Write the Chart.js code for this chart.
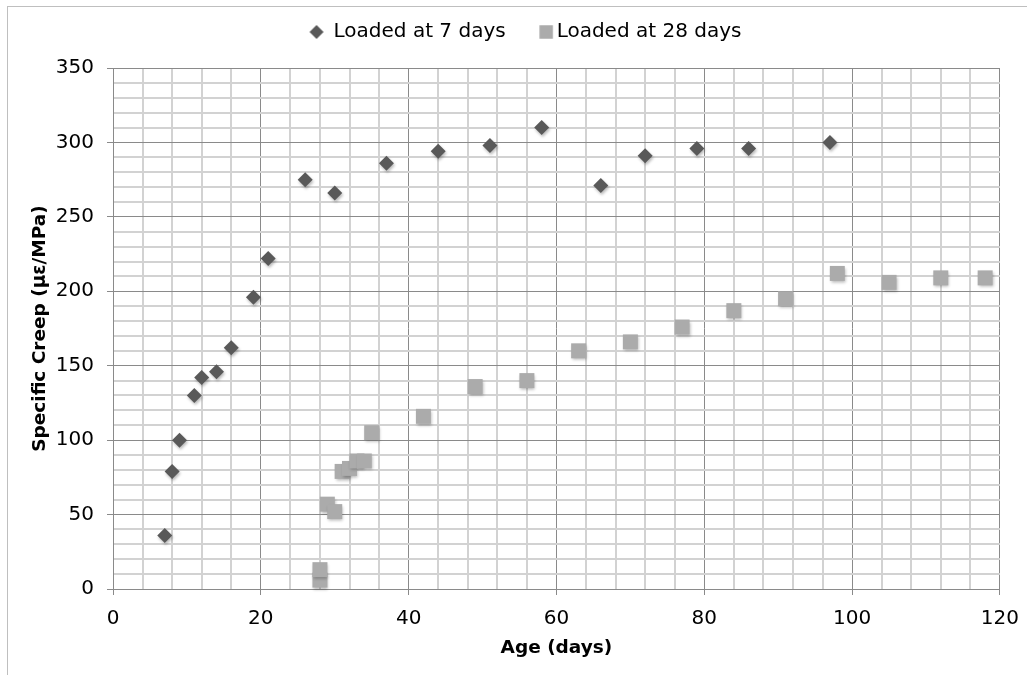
<!DOCTYPE html>
<html>
<head>
<meta charset="utf-8">
<script src="https://cdn.jsdelivr.net/npm/chart.js@4.4.1/dist/chart.umd.min.js"></script>
<style>
  html, body { margin: 0; padding: 0; background: #fff; }
  #frame { position: absolute; left: 7px; top: 6px; width: 1040px; height: 700px;
           border: 1px solid #bfbfbf; box-sizing: border-box; }
  #wrap { position: absolute; left: 0; top: 0; width: 1027px; height: 675px; }
</style>
</head>
<body>
<div id="frame"></div>
<div id="wrap"><canvas id="chart"></canvas></div>
<script>
// Specimens loaded at 7 days
const ageLoaded7 = [7, 8, 9, 11, 12, 14, 16, 19, 21, 26, 30, 37, 44, 51, 58, 66, 72, 79, 86, 97];
const creepLoaded7 = [36, 79, 100, 130, 142, 146, 162, 196, 222, 275, 266, 286, 294, 298, 310, 271, 291, 296, 296, 300];

// Specimens loaded at 28 days
const ageLoaded28 = [28, 28, 29, 30, 31, 32, 33, 34, 35, 42, 49, 56, 63, 70, 77, 84, 91, 98, 105, 112, 118];
const creepLoaded28 = [6, 13, 57, 52, 79, 81, 86, 86, 105, 116, 136, 140, 160, 166, 176, 187, 195, 212, 206, 209, 209];

const seriesNames = ['Loaded at 7 days', 'Loaded at 28 days'];

// Axis ranges: labelled every 20 days / 50 units, light grid every 4 days / 10 units
const xRange = { min: 0, max: 120, minor: 4, major: 20 };
const yRange = { min: 0, max: 350, minor: 10, major: 50 };

const DARK = '#595959';
const LIGHT = '#ababab';
const MAJOR_GRID = '#8a8a8a';
const MINOR_GRID = '#d2d2d2';
const FONT = 'DejaVu Sans';
const LEGEND_GAP = 16;

function toPoints(xs, ys) {
  return xs.map((x, i) => ({ x: x, y: ys[i] }));
}

// Small legend markers; the horizontal shift places each one next to its label
function legendMarker(kind, color, shift) {
  const size = kind === 'diamond' ? 14 : 13.5;
  const w = Math.ceil(2 * (size / 2 + Math.abs(shift)) + 2);
  const h = 16;
  const c = document.createElement('canvas');
  c.width = w; c.height = h;
  const g = c.getContext('2d');
  const cx = w / 2 + shift, cy = h / 2, r = size / 2;
  g.fillStyle = color;
  g.beginPath();
  if (kind === 'diamond') {
    g.moveTo(cx - r, cy); g.lineTo(cx, cy - r); g.lineTo(cx + r, cy); g.lineTo(cx, cy + r);
  } else {
    g.rect(cx - r, cy - r, size, size);
  }
  g.closePath();
  g.fill();
  return c;
}
const legendMarkers = [legendMarker('diamond', DARK, 2.5), legendMarker('square', LIGHT, 9)];

// Extra space between the legend row and the plot area
const legendGap = {
  id: 'legendGap',
  beforeInit(chart) {
    Chart.layouts.addBox(chart, {
      position: 'top', weight: 0, fullSize: true, options: {},
      top: 0, left: 0, right: 0, bottom: 0, width: 0, height: 0,
      isHorizontal() { return true; },
      update(maxWidth) { this.width = maxWidth; this.height = LEGEND_GAP; },
      draw() {}
    });
  }
};

// Soft drop shadow under the markers
const markerShadow = {
  id: 'markerShadow',
  beforeDatasetsDraw(chart) {
    const ctx = chart.ctx;
    ctx.save();
    ctx.shadowColor = 'rgba(0,0,0,0.28)';
    ctx.shadowBlur = 3;
    ctx.shadowOffsetX = 1;
    ctx.shadowOffsetY = 2;
  },
  afterDatasetsDraw(chart) {
    chart.ctx.restore();
  }
};

const isMajor = (v, step) => Math.abs(v % step) < 1e-6;

new Chart(document.getElementById('chart'), {
  type: 'scatter',
  data: {
    datasets: [
      {
        label: seriesNames[0],
        data: toPoints(ageLoaded7, creepLoaded7),
        pointStyle: 'rectRot',
        pointRadius: 7.5,
        pointHoverRadius: 7.5,
        backgroundColor: DARK,
        borderColor: DARK,
        borderWidth: 0,
        clip: false
      },
      {
        label: seriesNames[1],
        data: toPoints(ageLoaded28, creepLoaded28),
        pointStyle: 'rect',
        pointRadius: 10.6,
        pointHoverRadius: 10.6,
        backgroundColor: LIGHT,
        borderColor: LIGHT,
        borderWidth: 0,
        clip: false
      }
    ]
  },
  options: {
    responsive: true,
    maintainAspectRatio: false,
    animation: false,
    devicePixelRatio: 1,
    events: [],
    layout: { padding: { top: 0, left: 25, right: 6, bottom: 12 } },
    plugins: {
      tooltip: { enabled: false },
      legend: {
        position: 'top',
        align: 'center',
        labels: {
          usePointStyle: true,
          boxWidth: 19,
          padding: 22,
          color: '#000',
          font: { family: FONT, size: 20 },
          generateLabels(chart) {
            const items = Chart.defaults.plugins.legend.labels.generateLabels(chart);
            items.forEach((it, i) => { it.pointStyle = legendMarkers[i]; });
            return items;
          }
        }
      }
    },
    scales: {
      x: {
        type: 'linear',
        min: xRange.min,
        max: xRange.max,
        afterFit(scale) { scale.height = 74; },
        ticks: {
          stepSize: xRange.minor,
          autoSkip: false,
          maxRotation: 0,
          padding: 8,
          color: '#000',
          font: { family: FONT, size: 20, lineHeight: 1.6 },
          callback: v => isMajor(v, xRange.major) ? String(v) : ''
        },
        grid: {
          color: c => isMajor(c.tick.value, xRange.major) ? MAJOR_GRID : MINOR_GRID,
          lineWidth: c => isMajor(c.tick.value, xRange.major) ? 1 : 2,
          tickColor: c => isMajor(c.tick.value, xRange.major) ? MAJOR_GRID : 'rgba(0,0,0,0)',
          tickLength: 6,
          tickWidth: 1
        },
        border: { color: MAJOR_GRID, width: 1 },
        title: {
          display: true,
          text: 'Age (days)',
          color: '#000',
          font: { family: FONT, size: 18.5, weight: 'bold' },
          padding: { top: 4, bottom: 4 }
        }
      },
      y: {
        type: 'linear',
        min: yRange.min,
        max: yRange.max,
        afterFit(scale) { scale.width = 88; },
        ticks: {
          stepSize: yRange.minor,
          autoSkip: false,
          padding: 13,
          color: '#000',
          font: { family: FONT, size: 20 },
          callback: v => isMajor(v, yRange.major) ? String(v) : ''
        },
        grid: {
          color: c => isMajor(c.tick.value, yRange.major) ? MAJOR_GRID : MINOR_GRID,
          lineWidth: c => isMajor(c.tick.value, yRange.major) ? 1 : 2,
          tickColor: c => isMajor(c.tick.value, yRange.major) ? MAJOR_GRID : 'rgba(0,0,0,0)',
          tickLength: 6,
          tickWidth: 1
        },
        border: { color: MAJOR_GRID, width: 1 },
        title: {
          display: true,
          text: 'Specific Creep (με/MPa)',
          color: '#000',
          font: { family: FONT, size: 18.5, weight: 'bold' },
          padding: { top: 4, bottom: 4 }
        }
      }
    }
  },
  plugins: [legendGap, markerShadow]
});
</script>
</body>
</html>
